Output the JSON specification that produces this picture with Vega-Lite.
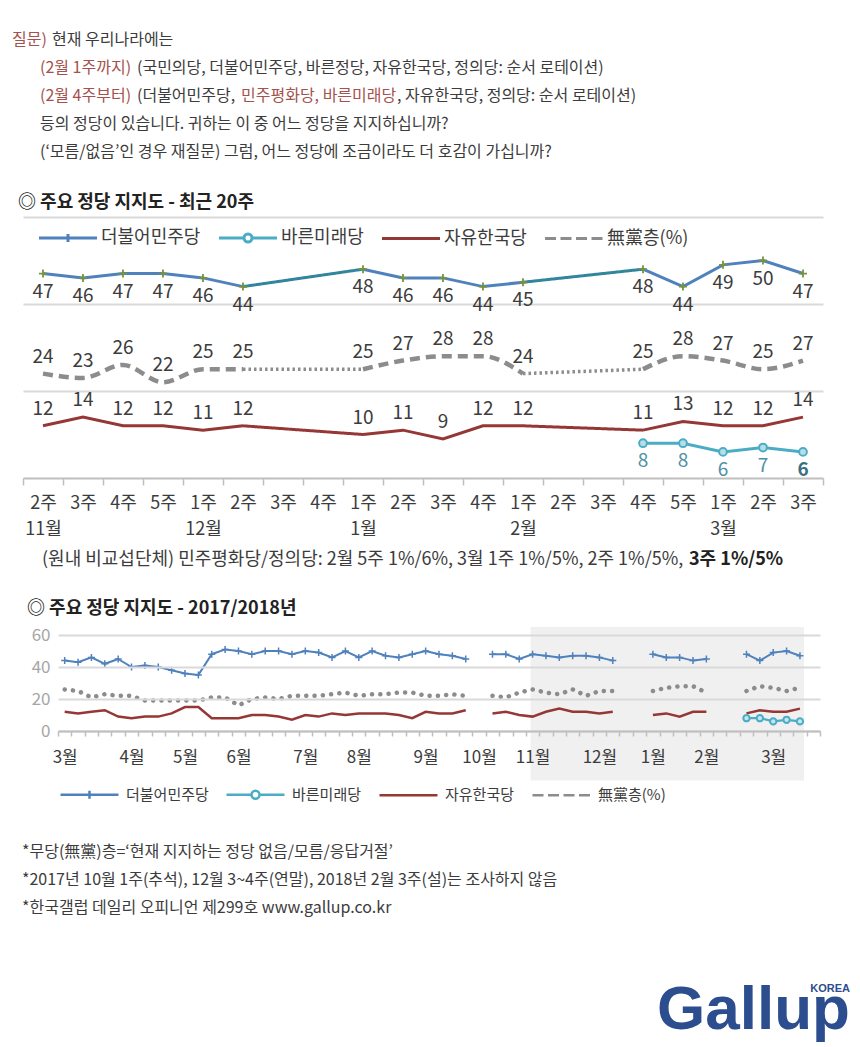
{
  "$schema": "https://vega.github.io/schema/vega-lite/v6.json",
  "background": "white",
  "padding": {"left": 12, "top": 32, "right": 5, "bottom": 0},
  "config": {
    "view": {"stroke": null},
    "font": "Noto Sans CJK KR",
    "title": {"font": "Noto Sans CJK KR", "fontSize": 16, "fontWeight": "normal", "anchor": "start", "frame": "group", "offset": 0, "color": "#3c3c3c"},
    "legend": {"labelFont": "Noto Sans CJK KR"},
    "axis": {"labelFont": "Noto Sans CJK KR"}
  },
  "datasets": {
    "recent": [
      {"i": 0, "wk": "11월 2주", "더불어민주당": 47, "바른미래당": null, "자유한국당": 12, "無黨층(%)": 24},
      {"i": 1, "wk": "11월 3주", "더불어민주당": 46, "바른미래당": null, "자유한국당": 14, "無黨층(%)": 23},
      {"i": 2, "wk": "11월 4주", "더불어민주당": 47, "바른미래당": null, "자유한국당": 12, "無黨층(%)": 26},
      {"i": 3, "wk": "11월 5주", "더불어민주당": 47, "바른미래당": null, "자유한국당": 12, "無黨층(%)": 22},
      {"i": 4, "wk": "12월 1주", "더불어민주당": 46, "바른미래당": null, "자유한국당": 11, "無黨층(%)": 25},
      {"i": 5, "wk": "12월 2주", "더불어민주당": 44, "바른미래당": null, "자유한국당": 12, "無黨층(%)": 25},
      {"i": 6, "wk": "12월 3주", "더불어민주당": null, "바른미래당": null, "자유한국당": null, "無黨층(%)": null},
      {"i": 7, "wk": "12월 4주", "더불어민주당": null, "바른미래당": null, "자유한국당": null, "無黨층(%)": null},
      {"i": 8, "wk": "1월 1주", "더불어민주당": 48, "바른미래당": null, "자유한국당": 10, "無黨층(%)": 25},
      {"i": 9, "wk": "1월 2주", "더불어민주당": 46, "바른미래당": null, "자유한국당": 11, "無黨층(%)": 27},
      {"i": 10, "wk": "1월 3주", "더불어민주당": 46, "바른미래당": null, "자유한국당": 9, "無黨층(%)": 28},
      {"i": 11, "wk": "1월 4주", "더불어민주당": 44, "바른미래당": null, "자유한국당": 12, "無黨층(%)": 28},
      {"i": 12, "wk": "2월 1주", "더불어민주당": 45, "바른미래당": null, "자유한국당": 12, "無黨층(%)": 24},
      {"i": 13, "wk": "2월 2주", "더불어민주당": null, "바른미래당": null, "자유한국당": null, "無黨층(%)": null},
      {"i": 14, "wk": "2월 3주", "더불어민주당": null, "바른미래당": null, "자유한국당": null, "無黨층(%)": null},
      {"i": 15, "wk": "2월 4주", "더불어민주당": 48, "바른미래당": 8, "자유한국당": 11, "無黨층(%)": 25},
      {"i": 16, "wk": "2월 5주", "더불어민주당": 44, "바른미래당": 8, "자유한국당": 13, "無黨층(%)": 28},
      {"i": 17, "wk": "3월 1주", "더불어민주당": 49, "바른미래당": 6, "자유한국당": 12, "無黨층(%)": 27},
      {"i": 18, "wk": "3월 2주", "더불어민주당": 50, "바른미래당": 7, "자유한국당": 12, "無黨층(%)": 25},
      {"i": 19, "wk": "3월 3주", "더불어민주당": 47, "바른미래당": 6, "자유한국당": 14, "無黨층(%)": 27}
    ],
    "long": [
      {"i": 0, "더불어민주당": 44, "바른미래당": null, "자유한국당": 12, "無黨층(%)": 26},
      {"i": 1, "더불어민주당": 43, "바른미래당": null, "자유한국당": 11, "無黨층(%)": 25},
      {"i": 2, "더불어민주당": 46, "바른미래당": null, "자유한국당": 12, "無黨층(%)": 21},
      {"i": 3, "더불어민주당": 42, "바른미래당": null, "자유한국당": 13, "無黨층(%)": 23},
      {"i": 4, "더불어민주당": 45, "바른미래당": null, "자유한국당": 9, "無黨층(%)": 22},
      {"i": 5, "더불어민주당": 40, "바른미래당": null, "자유한국당": 8, "無黨층(%)": 22},
      {"i": 6, "더불어민주당": 41, "바른미래당": null, "자유한국당": 9, "無黨층(%)": 19},
      {"i": 7, "더불어민주당": 40, "바른미래당": null, "자유한국당": 9, "無黨층(%)": 19},
      {"i": 8, "더불어민주당": 38, "바른미래당": null, "자유한국당": 11, "無黨층(%)": 19},
      {"i": 9, "더불어민주당": 36, "바른미래당": null, "자유한국당": 15, "無黨층(%)": 19},
      {"i": 10, "더불어민주당": 35, "바른미래당": null, "자유한국당": 15, "無黨층(%)": 19},
      {"i": 11, "더불어민주당": 48, "바른미래당": null, "자유한국당": 8, "無黨층(%)": 21},
      {"i": 12, "더불어민주당": 51, "바른미래당": null, "자유한국당": 8, "無黨층(%)": 21},
      {"i": 13, "더불어민주당": 50, "바른미래당": null, "자유한국당": 8, "無黨층(%)": 16},
      {"i": 14, "더불어민주당": 48, "바른미래당": null, "자유한국당": 10, "無黨층(%)": 20},
      {"i": 15, "더불어민주당": 50, "바른미래당": null, "자유한국당": 10, "無黨층(%)": 21},
      {"i": 16, "더불어민주당": 50, "바른미래당": null, "자유한국당": 9, "無黨층(%)": 20},
      {"i": 17, "더불어민주당": 48, "바른미래당": null, "자유한국당": 7, "無黨층(%)": 22},
      {"i": 18, "더불어민주당": 50, "바른미래당": null, "자유한국당": 10, "無黨층(%)": 22},
      {"i": 19, "더불어민주당": 49, "바른미래당": null, "자유한국당": 9, "無黨층(%)": 22},
      {"i": 20, "더불어민주당": 46, "바른미래당": null, "자유한국당": 11, "無黨층(%)": 23},
      {"i": 21, "더불어민주당": 50, "바른미래당": null, "자유한국당": 10, "無黨층(%)": 24},
      {"i": 22, "더불어민주당": 46, "바른미래당": null, "자유한국당": 11, "無黨층(%)": 22},
      {"i": 23, "더불어민주당": 50, "바른미래당": null, "자유한국당": 11, "無黨층(%)": 23},
      {"i": 24, "더불어민주당": 47, "바른미래당": null, "자유한국당": 11, "無黨층(%)": 23},
      {"i": 25, "더불어민주당": 46, "바른미래당": null, "자유한국당": 10, "無黨층(%)": 24},
      {"i": 26, "더불어민주당": 48, "바른미래당": null, "자유한국당": 8, "無黨층(%)": 24},
      {"i": 27, "더불어민주당": 50, "바른미래당": null, "자유한국당": 12, "無黨층(%)": 22},
      {"i": 28, "더불어민주당": 48, "바른미래당": null, "자유한국당": 11, "無黨층(%)": 22},
      {"i": 29, "더불어민주당": 47, "바른미래당": null, "자유한국당": 11, "無黨층(%)": 23},
      {"i": 30, "더불어민주당": 45, "바른미래당": null, "자유한국당": 13, "無黨층(%)": 22},
      {"i": 31, "더불어민주당": null, "바른미래당": null, "자유한국당": null, "無黨층(%)": null},
      {"i": 32, "더불어민주당": 48, "바른미래당": null, "자유한국당": 11, "無黨층(%)": 22},
      {"i": 33, "더불어민주당": 48, "바른미래당": null, "자유한국당": 12, "無黨층(%)": 21},
      {"i": 34, "더불어민주당": 45, "바른미래당": null, "자유한국당": 10, "無黨층(%)": 24},
      {"i": 35, "더불어민주당": 48, "바른미래당": null, "자유한국당": 9, "無黨층(%)": 26},
      {"i": 36, "더불어민주당": 47, "바른미래당": null, "자유한국당": 12, "無黨층(%)": 24},
      {"i": 37, "더불어민주당": 46, "바른미래당": null, "자유한국당": 14, "無黨층(%)": 23},
      {"i": 38, "더불어민주당": 47, "바른미래당": null, "자유한국당": 12, "無黨층(%)": 26},
      {"i": 39, "더불어민주당": 47, "바른미래당": null, "자유한국당": 12, "無黨층(%)": 22},
      {"i": 40, "더불어민주당": 46, "바른미래당": null, "자유한국당": 11, "無黨층(%)": 25},
      {"i": 41, "더불어민주당": 44, "바른미래당": null, "자유한국당": 12, "無黨층(%)": 25},
      {"i": 42, "더불어민주당": null, "바른미래당": null, "자유한국당": null, "無黨층(%)": null},
      {"i": 43, "더불어민주당": null, "바른미래당": null, "자유한국당": null, "無黨층(%)": null},
      {"i": 44, "더불어민주당": 48, "바른미래당": null, "자유한국당": 10, "無黨층(%)": 25},
      {"i": 45, "더불어민주당": 46, "바른미래당": null, "자유한국당": 11, "無黨층(%)": 27},
      {"i": 46, "더불어민주당": 46, "바른미래당": null, "자유한국당": 9, "無黨층(%)": 28},
      {"i": 47, "더불어민주당": 44, "바른미래당": null, "자유한국당": 12, "無黨층(%)": 28},
      {"i": 48, "더불어민주당": 45, "바른미래당": null, "자유한국당": 12, "無黨층(%)": 24},
      {"i": 49, "더불어민주당": null, "바른미래당": null, "자유한국당": null, "無黨층(%)": null},
      {"i": 50, "더불어민주당": null, "바른미래당": null, "자유한국당": null, "無黨층(%)": null},
      {"i": 51, "더불어민주당": 48, "바른미래당": 8, "자유한국당": 11, "無黨층(%)": 25},
      {"i": 52, "더불어민주당": 44, "바른미래당": 8, "자유한국당": 13, "無黨층(%)": 28},
      {"i": 53, "더불어민주당": 49, "바른미래당": 6, "자유한국당": 12, "無黨층(%)": 27},
      {"i": 54, "더불어민주당": 50, "바른미래당": 7, "자유한국당": 12, "無黨층(%)": 25},
      {"i": 55, "더불어민주당": 47, "바른미래당": 6, "자유한국당": 14, "無黨층(%)": 27}
    ],
    "highlight": [{"start": 34.85, "end": 55.3, "hi": 65, "lo": -31}]
  },
  "spacing": 0,
  "vconcat": [
    {"spacing": 0, "hconcat": [
      {"width": 1, "height": 8, "data": {"values": []}, "mark": "point", "title": {"text": "질문)", "color": "#a5514d"}},
      {"width": 1, "height": 8, "data": {"values": []}, "mark": "point", "title": {"text": "현재 우리나라에는", "dx": 5}}
    ]},
    {"spacing": 0, "hconcat": [
      {"width": 1, "height": 8, "data": {"values": []}, "mark": "point", "title": {"text": "(2월 1주까지)", "color": "#a5514d", "dx": 28}},
      {"width": 1, "height": 8, "data": {"values": []}, "mark": "point", "title": {"text": "(국민의당, 더불어민주당, 바른정당, 자유한국당, 정의당: 순서 로테이션)", "dx": 5}}
    ]},
    {"spacing": 0, "hconcat": [
      {"width": 1, "height": 8, "data": {"values": []}, "mark": "point", "title": {"text": "(2월 4주부터)", "color": "#a5514d", "dx": 28}},
      {"width": 1, "height": 8, "data": {"values": []}, "mark": "point", "title": {"text": "(더불어민주당,", "dx": 5}},
      {"width": 1, "height": 8, "data": {"values": []}, "mark": "point", "title": {"text": "민주평화당, 바른미래당", "color": "#a5514d", "dx": 5}},
      {"width": 1, "height": 8, "data": {"values": []}, "mark": "point", "title": {"text": ", 자유한국당, 정의당: 순서 로테이션)"}}
    ]},
    {"width": 1, "height": 8, "data": {"values": []}, "mark": "point", "title": {"text": "등의 정당이 있습니다. 귀하는 이 중 어느 정당을 지지하십니까?", "dx": 28}},
    {"width": 1, "height": 30, "data": {"values": []}, "mark": "point", "title": {"text": "(‘모름/없음’인 경우 재질문) 그럼, 어느 정당에 조금이라도 더 호감이 가십니까?", "dx": 28}},
    {"width": 1, "height": 1, "data": {"values": []}, "mark": "point", "title": {"text": "◎  주요 정당 지지도 - 최근 20주", "fontSize": 18, "fontWeight": "bold", "color": "#222222", "dx": 6}},
    {"spacing": 9, "resolve": {"legend": {"color": "independent", "shape": "independent"}}, "hconcat": [
      {"width": 1, "height": 334, "data": {"values": []}, "mark": "point"},
      {
        "width": 800, "height": 261,
        "data": {"name": "recent"},
        "transform": [{"fold": ["더불어민주당", "바른미래당", "자유한국당", "無黨층(%)"], "as": ["party", "v"]}],
        "encoding": {
          "x": {"field": "i", "type": "quantitative", "scale": {"domain": [-0.5, 19.5], "nice": false, "zero": false},
            "axis": {"title": null, "grid": false,
              "values": [-0.5, 0, 0.5, 1, 1.5, 2, 2.5, 3, 3.5, 4, 4.5, 5, 5.5, 6, 6.5, 7, 7.5, 8, 8.5, 9, 9.5, 10, 10.5, 11, 11.5, 12, 12.5, 13, 13.5, 14, 14.5, 15, 15.5, 16, 16.5, 17, 17.5, 18, 18.5, 19, 19.5],
              "labelExpr": "datum.value % 1 !== 0 ? '' : (indexof([0,4,8,12,17], datum.value) >= 0 ? [['2주','3주','4주','5주','1주','2주','3주','4주','1주','2주','3주','4주','1주','2주','3주','4주','5주','1주','2주','3주'][datum.value], ['11월','12월','1월','2월','3월'][indexof([0,4,8,12,17], datum.value)]] : ['2주','3주','4주','5주','1주','2주','3주','4주','1주','2주','3주','4주','1주','2주','3주','4주','5주','1주','2주','3주'][datum.value])",
              "domainColor": "#bfbfbf", "domainWidth": 2, "tickColor": "#bfbfbf", "tickWidth": 1.5, "tickSize": 7,
              "tickOpacity": {"condition": {"test": "datum.value % 1 === 0", "value": 0}, "value": 1},
              "labelFontSize": 18, "labelColor": "#3c3c3c", "labelPadding": 9, "labelLineHeight": 26,
              "labelOverlap": false, "labelFlush": false, "labelBound": false}},
          "y": {"field": "v", "type": "quantitative", "scale": {"domain": [0, 60], "nice": false},
            "axis": {"title": null, "values": [20, 40, 60], "labels": false, "ticks": false, "domain": false, "grid": true, "gridColor": "#d9d9d9", "gridWidth": 2}}
        },
        "layer": [
          {"transform": [{"filter": "(datum.i === 5 || datum.i === 8) && isValid(datum.v)"}],
           "mark": {"type": "line"},
           "encoding": {
             "detail": {"field": "party", "type": "nominal"},
             "stroke": {"condition": [{"test": "datum.party === '더불어민주당'", "value": "#31859c"}, {"test": "datum.party === '無黨층(%)'", "value": "#8c8c8c"}], "value": "#953735"},
             "strokeDash": {"condition": {"test": "datum.party === '無黨층(%)'", "value": [2.5, 3]}, "value": [1, 0]},
             "strokeWidth": {"condition": {"test": "datum.party === '無黨층(%)'", "value": 3.5}, "value": 3}}},
          {"transform": [{"filter": "(datum.i === 12 || datum.i === 15) && isValid(datum.v)"}],
           "mark": {"type": "line"},
           "encoding": {
             "detail": {"field": "party", "type": "nominal"},
             "stroke": {"condition": [{"test": "datum.party === '더불어민주당'", "value": "#31859c"}, {"test": "datum.party === '無黨층(%)'", "value": "#8c8c8c"}], "value": "#953735"},
             "strokeDash": {"condition": {"test": "datum.party === '無黨층(%)'", "value": [2.5, 3]}, "value": [1, 0]},
             "strokeWidth": {"condition": {"test": "datum.party === '無黨층(%)'", "value": 3.5}, "value": 3}}},
          {"transform": [{"filter": "datum.party !== '無黨층(%)'"}],
           "mark": {"type": "line", "strokeWidth": 3, "invalid": "break-paths-show-domains"},
           "encoding": {
             "stroke": {"field": "party", "type": "nominal", "scale": {"domain": ["더불어민주당", "바른미래당", "자유한국당"], "range": ["#4f81bd", "#4bacc6", "#953735"]}, "legend": null}}},
          {"transform": [{"filter": "datum.party === '無黨층(%)'"}],
           "mark": {"type": "line", "color": "#8c8c8c", "strokeWidth": 4.5, "strokeDash": [10, 6], "interpolate": "monotone", "invalid": "break-paths-show-domains"}},
          {"transform": [{"filter": "datum.party === '더불어민주당' && isValid(datum.v)"}],
           "mark": {"type": "point", "shape": "M-1,0H1M0,-1V1", "filled": false, "stroke": "#77933c", "strokeWidth": 1.8, "size": 64, "opacity": 1}},
          {"transform": [{"filter": "datum.party === '바른미래당' && isValid(datum.v)"}],
           "mark": {"type": "point", "shape": "circle", "filled": true, "fill": "#b7dee8", "stroke": "#4bacc6", "strokeWidth": 2, "size": 60, "opacity": 1}},
          {"transform": [{"filter": "(datum.party === '더불어민주당' || datum.party === '바른미래당') && isValid(datum.v) && !(datum.party === '바른미래당' && datum.i === 19)"}],
           "mark": {"type": "text", "dy": 18, "fontSize": 19, "baseline": "middle"},
           "encoding": {
             "text": {"field": "v", "type": "quantitative"},
             "color": {"condition": {"test": "datum.party === '바른미래당'", "value": "#4e8fa3"}, "value": "#3c3c3c"}}},
          {"transform": [{"filter": "(datum.party === '자유한국당' || datum.party === '無黨층(%)') && isValid(datum.v)"}],
           "mark": {"type": "text", "dy": -17, "fontSize": 19, "baseline": "middle", "color": "#3c3c3c"},
           "encoding": {"text": {"field": "v", "type": "quantitative"}}},
          {"transform": [{"filter": "datum.party === '바른미래당' && datum.i === 19"}],
           "mark": {"type": "text", "dy": 18, "fontSize": 19, "fontWeight": "bold", "baseline": "middle", "color": "#3b6e80"},
           "encoding": {"text": {"field": "v", "type": "quantitative"}}},
          {"transform": [{"filter": "false"}],
           "mark": {"type": "point", "filled": false, "opacity": 1},
           "encoding": {
             "color": {"field": "party", "type": "nominal", "scale": {"domain": ["더불어민주당", "바른미래당", "자유한국당", "無黨층(%)"], "range": ["#4f81bd", "#4bacc6", "#953735", "#8c8c8c"]},
               "legend": {"title": null, "orient": "top-left", "direction": "horizontal", "symbolSize": 100, "symbolStrokeWidth": 3, "labelFontSize": 18, "labelColor": "#3c3c3c", "labelOffset": 48, "columnPadding": 12, "offset": 12}},
             "shape": {"field": "party", "type": "nominal", "scale": {"domain": ["더불어민주당", "바른미래당", "자유한국당", "無黨층(%)"], "range": ["M-1,0H10.6M4.8,-0.8V0.8M4,0H5.6", "M-1,0H4M5.6,0H10.6M4,0A0.8,0.8,0,1,0,5.6,0A0.8,0.8,0,1,0,4,0", "M-1,0H10.6", "M-1,0H1.2M2.1,0H4.3M5.2,0H7.4M8.3,0H10.5"]},
               "legend": {"title": null, "orient": "top-left", "direction": "horizontal", "symbolSize": 100, "symbolStrokeWidth": 3, "labelFontSize": 18, "labelColor": "#3c3c3c", "labelOffset": 48, "columnPadding": 12, "offset": 12}}}}
        ]
      }
    ]},
    {"spacing": 0, "hconcat": [
      {"width": 1, "height": 27, "data": {"values": []}, "mark": "point", "title": {"text": "(원내 비교섭단체) 민주평화당/정의당: 2월 5주 1%/6%, 3월 1주 1%/5%, 2주 1%/5%,", "fontSize": 18, "dx": 30}},
      {"width": 1, "height": 27, "data": {"values": []}, "mark": "point", "title": {"text": "3주 1%/5%", "fontSize": 18, "fontWeight": "bold", "color": "#222222", "dx": 5}}
    ]},
    {"width": 1, "height": 4, "data": {"values": []}, "mark": "point", "title": {"text": "◎  주요 정당 지지도 - 2017/2018년", "fontSize": 18, "fontWeight": "bold", "color": "#222222", "dx": 15}},
    {"spacing": 18, "resolve": {"legend": {"color": "independent", "shape": "independent"}}, "hconcat": [
      {"width": 1, "height": 209, "data": {"values": []}, "mark": "point"},
      {
        "width": 762, "height": 96,
        "data": {"name": "long"},
        "encoding": {
          "x": {"field": "i", "type": "quantitative", "scale": {"domain": [-0.5, 56.5], "nice": false, "zero": false},
            "axis": {"title": null, "grid": false,
              "values": [-0.5, 0.5, 1.5, 2.5, 3.5, 4.5, 5.5, 6.5, 7.5, 8.5, 9.5, 10.5, 11.5, 12.5, 13.5, 14.5, 15.5, 16.5, 17.5, 18.5, 19.5, 20.5, 21.5, 22.5, 23.5, 24.5, 25.5, 26.5, 27.5, 28.5, 29.5, 30.5, 31.5, 32.5, 33.5, 34.5, 35.5, 36.5, 37.5, 38.5, 39.5, 40.5, 41.5, 42.5, 43.5, 44.5, 45.5, 46.5, 47.5, 48.5, 49.5, 50.5, 51.5, 52.5, 53.5, 54.5, 55.5, 56.5, 0, 5, 9, 13, 18, 22, 27, 31, 35, 40, 44, 48, 53],
              "labelExpr": "indexof([0,5,9,13,18,22,27,31,35,40,44,48,53], datum.value) >= 0 ? ['3월','4월','5월','6월','7월','8월','9월','10월','11월','12월','1월','2월','3월'][indexof([0,5,9,13,18,22,27,31,35,40,44,48,53], datum.value)] : ''",
              "domainColor": "#bfbfbf", "domainWidth": 2, "tickColor": "#bfbfbf", "tickWidth": 1.5, "tickSize": 5,
              "tickOpacity": {"condition": {"test": "datum.value % 1 === 0", "value": 0}, "value": 1},
              "labelFontSize": 17, "labelColor": "#3c3c3c", "labelPadding": 13,
              "labelOverlap": false, "labelFlush": false, "labelBound": false, "zindex": 1}},
          "y": {"field": "v", "type": "quantitative", "scale": {"domain": [0, 60], "nice": false},
            "axis": {"title": null, "values": [0, 20, 40, 60], "ticks": false, "domain": false, "grid": true, "gridColor": "#d9d9d9", "gridWidth": 2, "labelColor": "#a6a6a6", "labelFontSize": 17, "labelPadding": 8, "zindex": 1}}
        },
        "layer": [
          {"data": {"name": "highlight"},
           "mark": {"type": "rect", "fill": "#f0f0f0"},
           "encoding": {
             "x": {"field": "start", "type": "quantitative", "title": null},
             "x2": {"field": "end"},
             "y": {"field": "hi", "type": "quantitative", "scale": {"domain": [0, 60], "nice": false},
               "axis": {"title": null, "values": [0, 20, 40, 60], "ticks": false, "domain": false, "grid": true, "gridColor": "#d9d9d9", "gridWidth": 2, "labelColor": "#a6a6a6", "labelFontSize": 17, "labelPadding": 8, "zindex": 1}},
             "y2": {"field": "lo"}}},
          {"transform": [{"fold": ["더불어민주당", "바른미래당", "자유한국당"], "as": ["party", "v"]}],
           "mark": {"type": "line", "invalid": "break-paths-show-domains"},
           "encoding": {
             "stroke": {"field": "party", "type": "nominal", "scale": {"domain": ["더불어민주당", "바른미래당", "자유한국당"], "range": ["#4f81bd", "#4bacc6", "#953735"]}, "legend": null},
             "strokeWidth": {"field": "party", "type": "nominal", "scale": {"domain": ["더불어민주당", "바른미래당", "자유한국당"], "range": [2, 2.5, 3]}, "legend": null}}},
          {"transform": [{"fold": ["無黨층(%)"], "as": ["party", "v"]}],
           "mark": {"type": "line", "color": "#8c8c8c", "strokeWidth": 4.5, "strokeDash": [0.1, 8.2], "strokeCap": "round", "invalid": "break-paths-show-domains"}},
          {"transform": [{"fold": ["더불어민주당"], "as": ["party", "v"]}, {"filter": "isValid(datum.v)"}],
           "mark": {"type": "point", "shape": "M-1,0H1M0,-1V1", "filled": false, "stroke": "#4f81bd", "strokeWidth": 1.5, "size": 49, "opacity": 1}},
          {"transform": [{"fold": ["바른미래당"], "as": ["party", "v"]}, {"filter": "isValid(datum.v)"}],
           "mark": {"type": "point", "shape": "circle", "filled": true, "fill": "#c5e6ef", "stroke": "#4bacc6", "strokeWidth": 2, "size": 40, "opacity": 1}},
          {"transform": [{"fold": ["더불어민주당", "바른미래당", "자유한국당", "無黨층(%)"], "as": ["party", "v"]}, {"filter": "false"}],
           "mark": {"type": "point", "filled": false, "opacity": 1},
           "encoding": {
             "color": {"field": "party", "type": "nominal", "scale": {"domain": ["더불어민주당", "바른미래당", "자유한국당", "無黨층(%)"], "range": ["#4f81bd", "#4bacc6", "#953735", "#8c8c8c"]},
               "legend": {"title": null, "orient": "bottom", "direction": "horizontal", "symbolSize": 100, "symbolStrokeWidth": 2.5, "labelFontSize": 15, "labelColor": "#3c3c3c", "labelOffset": 53, "columnPadding": 12, "offset": 22}},
             "shape": {"field": "party", "type": "nominal", "scale": {"domain": ["더불어민주당", "바른미래당", "자유한국당", "無黨층(%)"], "range": ["M-1,0H10M4.5,-0.8V0.8M3.7,0H5.3", "M-1,0H10M4.2,0A0.3,0.3,0,1,0,4.8,0A0.3,0.3,0,1,0,4.2,0", "M-1,0H10", "M-0.8,0A0.1,0.1,0,1,0,-0.6,0A0.1,0.1,0,1,0,-0.8,0M0.8,0A0.1,0.1,0,1,0,1,0A0.1,0.1,0,1,0,0.8,0M2.4,0A0.1,0.1,0,1,0,2.6,0A0.1,0.1,0,1,0,2.4,0M4,0A0.1,0.1,0,1,0,4.2,0A0.1,0.1,0,1,0,4,0M5.6,0A0.1,0.1,0,1,0,5.8,0A0.1,0.1,0,1,0,5.6,0M7.2,0A0.1,0.1,0,1,0,7.4,0A0.1,0.1,0,1,0,7.2,0M8.8,0A0.1,0.1,0,1,0,9,0A0.1,0.1,0,1,0,8.8,0"]},
               "legend": {"title": null, "orient": "bottom", "direction": "horizontal", "symbolSize": 100, "symbolStrokeWidth": 2.5, "labelFontSize": 15, "labelColor": "#3c3c3c", "labelOffset": 53, "columnPadding": 12, "offset": 22}}}}
        ]
      }
    ]},
    {"width": 1, "height": 8, "data": {"values": []}, "mark": "point", "title": {"text": "*무당(無黨)층=‘현재 지지하는 정당 없음/모름/응답거절’", "dx": 10}},
    {"width": 1, "height": 8, "data": {"values": []}, "mark": "point", "title": {"text": "*2017년 10월 1주(추석), 12월 3~4주(연말), 2018년 2월 3주(설)는 조사하지 않음", "dx": 10}},
    {"width": 1, "height": 59, "data": {"values": []}, "mark": "point", "title": {"text": "*한국갤럽 데일리 오피니언 제299호 www.gallup.co.kr", "dx": 10}},
    {"width": 838, "height": 1, "data": {"values": []}, "mark": "point",
     "title": {"text": "KOREA", "anchor": "end", "fontSize": 11, "fontWeight": "bold", "font": "Liberation Sans", "color": "#2c4d8e",
       "subtitle": "Gallup", "subtitleFontSize": 62, "subtitleFontWeight": "bold", "subtitleFont": "Liberation Sans Narrow, Liberation Sans", "subtitleColor": "#2c4d8e", "subtitlePadding": -14}}
  ]
}
